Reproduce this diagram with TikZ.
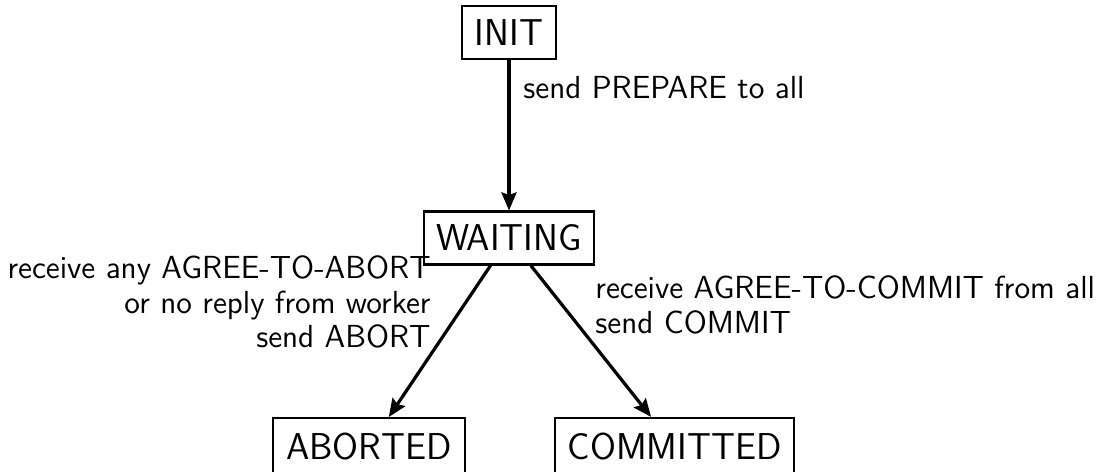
\documentclass[tikz,border=0pt]{standalone}
\usetikzlibrary{arrows.meta}
\begin{document}
\begin{tikzpicture}[x=0.4651pt,y=-0.4651pt,
  state/.style={draw, line width=0.95pt, font=\sffamily\fontsize{17.4pt}{20pt}\selectfont,
    inner xsep=5.9pt, inner ysep=0pt, minimum height=24.65pt},
  trans/.style={-{Stealth[length=8.4pt,width=7pt,inset=1.2pt]}, line width=1.5pt},
  lbl/.style={font=\sffamily\fontsize{14.85pt}{16.2pt}\selectfont, inner sep=0pt}]
\useasboundingbox (0,0) rectangle (1097,471);
\node[state] (init) at (509,32.5) {INIT};
\node[state] (wait) at (509,238) {WAITING};
\node[state, minimum height=26.5pt] (abort) at (369,446.5) {ABORTED};
\node[state, minimum height=26.5pt] (commit) at (674.5,446.5) {COMMITTED};
\draw[trans] (init) -- (wait);
\draw[trans] (wait) -- (abort);
\draw[trans] (wait) -- (commit);
\node[lbl, anchor=base west] (l1) at (523,98) {send PREPARE to all};
\node[lbl, anchor=north east, align=right] (l2) at (431,255) {receive any AGREE-TO-ABORT\\or no reply from worker\\send ABORT};
\node[lbl, anchor=north west, align=left] (l3) at (595,275) {receive AGREE-TO-COMMIT from all\\send COMMIT};
\end{tikzpicture}
\end{document}
